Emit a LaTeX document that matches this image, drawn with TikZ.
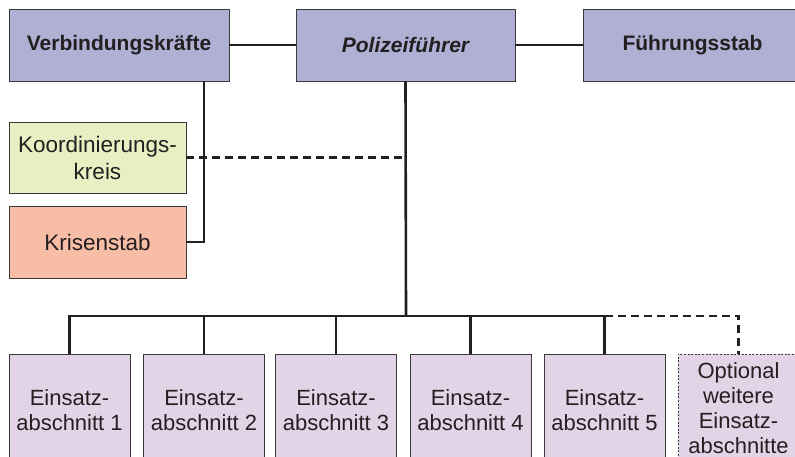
\documentclass[tikz,border=0pt]{standalone}
\usepackage{fontspec}
\setmainfont{Liberation Sans}
\usetikzlibrary{calc}
\definecolor{topfill}{HTML}{AFB0D3}
\definecolor{koordfill}{HTML}{E8F0C3}
\definecolor{krisfill}{HTML}{F8BDA6}
\definecolor{einfill}{HTML}{E3D3E6}
\definecolor{edge}{HTML}{3A3A3A}
\definecolor{ink}{HTML}{231F20}
\tikzset{
  box/.style={draw=edge, line width=0.8pt, text=ink, align=center, inner sep=0pt},
  topbox/.style={box, fill=topfill, minimum width=219pt, minimum height=72pt,
    font=\fontsize{21}{25}\selectfont\bfseries},
  sidebox/.style={box, minimum width=177pt, minimum height=71pt,
    font=\fontsize{22.5}{27}\selectfont},
  einbox/.style={box, fill=einfill, minimum width=121pt, minimum height=112pt,
    font=\fontsize{22}{25}\selectfont},
  optbox/.style={einbox, dash pattern=on 2pt off 1.6pt},
  conn/.style={draw=ink, line width=2.6pt},
  dconn/.style={conn, dash pattern=on 8pt off 5pt},
}
\begin{document}
\begin{tikzpicture}[x=1pt,y=-1pt]
\useasboundingbox (0,0) rectangle (795,457);
\clip (0,0) rectangle (795,457);
\node[topbox, minimum width=220pt] (V) at (119,45) {Verbindungskräfte};
\node[topbox] (P) at (405.5,45) {\itshape Polizeiführer};
\node[topbox] (F) at (692.5,45) {Führungsstab};
\node[sidebox, fill=koordfill] (K) at (97.5,157.5) {Koordinierungs-\\kreis};
\node[sidebox, fill=krisfill, minimum height=72pt] (R) at (97.5,242) {Krisenstab};
\node[einbox] (e1) at (69.5,410) {Einsatz-\\abschnitt 1};
\node[einbox] (e2) at (204,410) {Einsatz-\\abschnitt 2};
\node[einbox] (e3) at (336,410) {Einsatz-\\abschnitt 3};
\node[einbox] (e4) at (470.5,410) {Einsatz-\\abschnitt 4};
\node[einbox] (e5) at (604.5,410) {Einsatz-\\abschnitt 5};
\node[optbox, minimum height=108pt] (e6) at (738.5,408) {Optional\\weitere\\Einsatz-\\abschnitte};
\coordinate (bus) at (406,316);
\draw[conn] (V.east) -- (P.west);
\draw[conn] (P.east) -- (F.west);
\draw[conn] (R.east) -| (V.south -| e2.north);
\draw[dconn] (K.east) -- (K.east -| P.south);
\draw[conn] (P.south) -- (bus);
\draw[conn] (e1.north) -- (e1.north |- bus) -- (e5.north |- bus) -- (e5.north);
\foreach \n in {e2,e3,e4} \draw[conn] (\n.north) -- (\n.north |- bus);
\draw[dconn] (e5.north |- bus) -- (e6.north |- bus) -- (e6.north);
\end{tikzpicture}
\end{document}
